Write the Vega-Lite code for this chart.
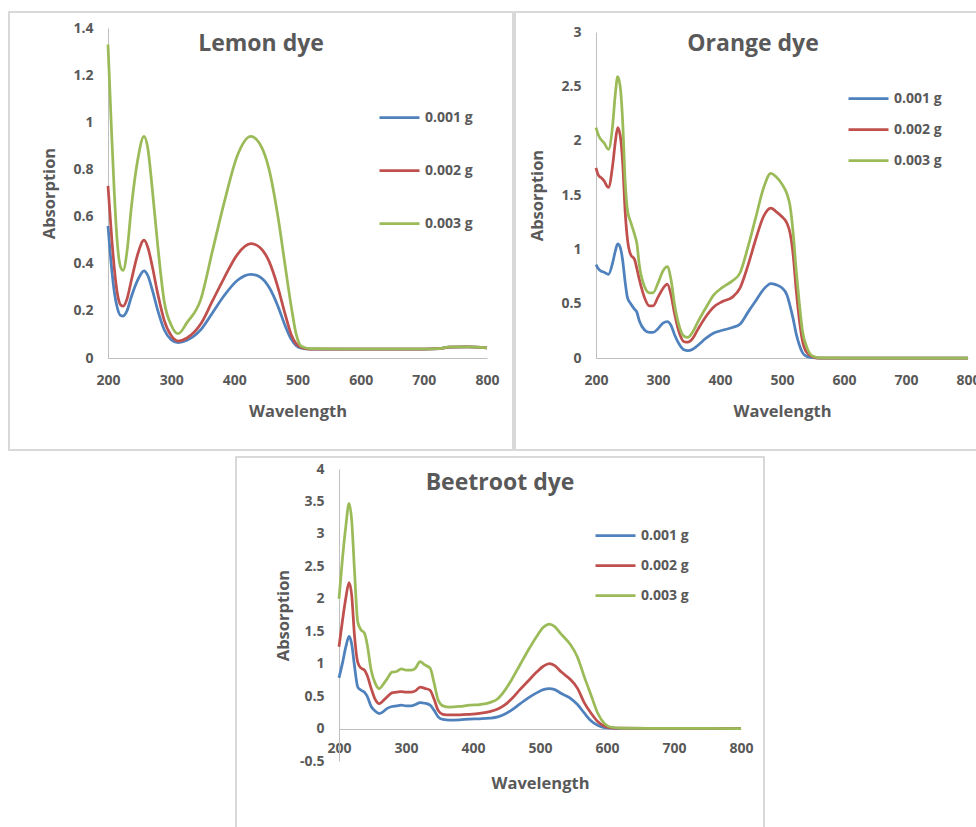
{
  "$schema": "https://vega.github.io/schema/vega-lite/v6.json",
  "background": "white",
  "padding": {"left": 8, "top": 11, "right": 0, "bottom": 0},
  "spacing": 5,
  "center": true,
  "datasets": {
    "lemon": [
      {"wl":200,"b":0.56,"r":0.73,"g":1.33},
      {"wl":205,"b":0.40,"r":0.54,"g":1.00},
      {"wl":210,"b":0.28,"r":0.38,"g":0.70},
      {"wl":215,"b":0.21,"r":0.27,"g":0.48},
      {"wl":220,"b":0.18,"r":0.225,"g":0.385},
      {"wl":224,"b":0.178,"r":0.22,"g":0.372},
      {"wl":230,"b":0.20,"r":0.25,"g":0.45},
      {"wl":237,"b":0.26,"r":0.33,"g":0.64},
      {"wl":247,"b":0.33,"r":0.44,"g":0.84},
      {"wl":257,"b":0.37,"r":0.50,"g":0.94},
      {"wl":263,"b":0.35,"r":0.47,"g":0.89},
      {"wl":270,"b":0.29,"r":0.39,"g":0.72},
      {"wl":279,"b":0.20,"r":0.27,"g":0.47},
      {"wl":289,"b":0.12,"r":0.16,"g":0.24},
      {"wl":300,"b":0.078,"r":0.095,"g":0.14},
      {"wl":311,"b":0.065,"r":0.072,"g":0.103},
      {"wl":325,"b":0.075,"r":0.085,"g":0.15},
      {"wl":347,"b":0.12,"r":0.145,"g":0.25},
      {"wl":365,"b":0.19,"r":0.24,"g":0.45},
      {"wl":384,"b":0.265,"r":0.34,"g":0.66},
      {"wl":405,"b":0.33,"r":0.44,"g":0.86},
      {"wl":426,"b":0.355,"r":0.485,"g":0.94},
      {"wl":440,"b":0.345,"r":0.47,"g":0.91},
      {"wl":455,"b":0.30,"r":0.41,"g":0.80},
      {"wl":469,"b":0.22,"r":0.30,"g":0.60},
      {"wl":480,"b":0.14,"r":0.19,"g":0.40},
      {"wl":490,"b":0.08,"r":0.10,"g":0.22},
      {"wl":498,"b":0.052,"r":0.06,"g":0.10},
      {"wl":506,"b":0.042,"r":0.045,"g":0.05},
      {"wl":520,"b":0.038,"r":0.038,"g":0.04},
      {"wl":600,"b":0.038,"r":0.038,"g":0.039},
      {"wl":700,"b":0.038,"r":0.038,"g":0.039},
      {"wl":725,"b":0.04,"r":0.04,"g":0.04},
      {"wl":740,"b":0.046,"r":0.046,"g":0.047},
      {"wl":770,"b":0.047,"r":0.047,"g":0.047},
      {"wl":800,"b":0.043,"r":0.043,"g":0.043}
    ],
    "orange": [
      {"wl":200,"b":0.86,"r":1.75,"g":2.12},
      {"wl":204,"b":0.82,"r":1.68,"g":2.05},
      {"wl":208,"b":0.80,"r":1.66,"g":2.01},
      {"wl":213,"b":0.79,"r":1.63,"g":1.98},
      {"wl":220,"b":0.77,"r":1.57,"g":1.92},
      {"wl":227,"b":0.88,"r":1.78,"g":2.15},
      {"wl":231,"b":0.98,"r":1.98,"g":2.42},
      {"wl":235,"b":1.05,"r":2.12,"g":2.59},
      {"wl":239,"b":1.02,"r":2.05,"g":2.50},
      {"wl":243,"b":0.90,"r":1.80,"g":2.18},
      {"wl":247,"b":0.70,"r":1.35,"g":1.63},
      {"wl":251,"b":0.55,"r":1.08,"g":1.35},
      {"wl":256,"b":0.50,"r":0.95,"g":1.25},
      {"wl":262,"b":0.45,"r":0.91,"g":1.14},
      {"wl":266,"b":0.42,"r":0.82,"g":1.05},
      {"wl":270,"b":0.34,"r":0.72,"g":0.85},
      {"wl":278,"b":0.26,"r":0.56,"g":0.66},
      {"wl":286,"b":0.235,"r":0.48,"g":0.60},
      {"wl":292,"b":0.235,"r":0.48,"g":0.60},
      {"wl":300,"b":0.27,"r":0.56,"g":0.69},
      {"wl":308,"b":0.32,"r":0.64,"g":0.80},
      {"wl":315,"b":0.335,"r":0.68,"g":0.84},
      {"wl":321,"b":0.30,"r":0.58,"g":0.72},
      {"wl":327,"b":0.21,"r":0.40,"g":0.48},
      {"wl":335,"b":0.12,"r":0.22,"g":0.28},
      {"wl":342,"b":0.075,"r":0.15,"g":0.20},
      {"wl":348,"b":0.067,"r":0.145,"g":0.19},
      {"wl":356,"b":0.08,"r":0.18,"g":0.24},
      {"wl":365,"b":0.12,"r":0.27,"g":0.34},
      {"wl":377,"b":0.18,"r":0.38,"g":0.46},
      {"wl":390,"b":0.23,"r":0.47,"g":0.58},
      {"wl":404,"b":0.255,"r":0.52,"g":0.65},
      {"wl":420,"b":0.28,"r":0.56,"g":0.71},
      {"wl":432,"b":0.31,"r":0.64,"g":0.78},
      {"wl":445,"b":0.42,"r":0.85,"g":1.02},
      {"wl":458,"b":0.53,"r":1.10,"g":1.30},
      {"wl":470,"b":0.63,"r":1.30,"g":1.56},
      {"wl":482,"b":0.685,"r":1.38,"g":1.70},
      {"wl":490,"b":0.675,"r":1.35,"g":1.67},
      {"wl":500,"b":0.645,"r":1.30,"g":1.60},
      {"wl":508,"b":0.58,"r":1.24,"g":1.51},
      {"wl":513,"b":0.48,"r":1.15,"g":1.40},
      {"wl":518,"b":0.36,"r":0.95,"g":1.15},
      {"wl":523,"b":0.22,"r":0.62,"g":0.80},
      {"wl":528,"b":0.12,"r":0.35,"g":0.50},
      {"wl":533,"b":0.05,"r":0.16,"g":0.25},
      {"wl":540,"b":0.015,"r":0.05,"g":0.10},
      {"wl":550,"b":0.003,"r":0.01,"g":0.015},
      {"wl":560,"b":0,"r":0,"g":0.002},
      {"wl":600,"b":0,"r":0,"g":0},
      {"wl":800,"b":0,"r":0,"g":0}
    ],
    "beet": [
      {"wl":200,"b":0.78,"r":1.26,"g":2.00},
      {"wl":205,"b":1.00,"r":1.65,"g":2.60},
      {"wl":210,"b":1.25,"r":2.00,"g":3.10},
      {"wl":215,"b":1.42,"r":2.25,"g":3.47},
      {"wl":219,"b":1.30,"r":2.05,"g":3.20},
      {"wl":223,"b":0.975,"r":1.45,"g":2.46},
      {"wl":228,"b":0.64,"r":1.02,"g":1.64},
      {"wl":233,"b":0.59,"r":0.93,"g":1.52},
      {"wl":238,"b":0.56,"r":0.90,"g":1.47},
      {"wl":242,"b":0.50,"r":0.82,"g":1.30},
      {"wl":248,"b":0.34,"r":0.62,"g":0.90},
      {"wl":254,"b":0.27,"r":0.45,"g":0.70},
      {"wl":260,"b":0.23,"r":0.385,"g":0.615},
      {"wl":266,"b":0.26,"r":0.43,"g":0.68},
      {"wl":272,"b":0.31,"r":0.49,"g":0.77},
      {"wl":279,"b":0.34,"r":0.55,"g":0.87},
      {"wl":286,"b":0.35,"r":0.56,"g":0.88},
      {"wl":293,"b":0.36,"r":0.57,"g":0.92},
      {"wl":300,"b":0.35,"r":0.56,"g":0.90},
      {"wl":308,"b":0.35,"r":0.56,"g":0.90},
      {"wl":314,"b":0.37,"r":0.58,"g":0.93},
      {"wl":321,"b":0.40,"r":0.64,"g":1.03},
      {"wl":328,"b":0.39,"r":0.62,"g":0.98},
      {"wl":336,"b":0.36,"r":0.59,"g":0.93},
      {"wl":342,"b":0.28,"r":0.45,"g":0.70},
      {"wl":348,"b":0.18,"r":0.28,"g":0.44},
      {"wl":355,"b":0.14,"r":0.22,"g":0.35},
      {"wl":365,"b":0.13,"r":0.21,"g":0.33},
      {"wl":380,"b":0.135,"r":0.21,"g":0.34},
      {"wl":395,"b":0.145,"r":0.22,"g":0.36},
      {"wl":410,"b":0.15,"r":0.235,"g":0.37},
      {"wl":425,"b":0.16,"r":0.26,"g":0.40},
      {"wl":437,"b":0.18,"r":0.30,"g":0.46},
      {"wl":447,"b":0.22,"r":0.36,"g":0.58},
      {"wl":457,"b":0.28,"r":0.45,"g":0.74},
      {"wl":470,"b":0.38,"r":0.60,"g":0.98},
      {"wl":482,"b":0.47,"r":0.73,"g":1.20},
      {"wl":495,"b":0.55,"r":0.87,"g":1.42},
      {"wl":505,"b":0.60,"r":0.96,"g":1.56},
      {"wl":514,"b":0.615,"r":1.00,"g":1.61},
      {"wl":522,"b":0.60,"r":0.97,"g":1.57},
      {"wl":532,"b":0.54,"r":0.87,"g":1.45},
      {"wl":545,"b":0.47,"r":0.76,"g":1.30},
      {"wl":556,"b":0.37,"r":0.62,"g":1.10},
      {"wl":566,"b":0.24,"r":0.40,"g":0.80},
      {"wl":576,"b":0.12,"r":0.24,"g":0.52},
      {"wl":586,"b":0.05,"r":0.11,"g":0.24},
      {"wl":596,"b":0.015,"r":0.04,"g":0.08},
      {"wl":606,"b":0.006,"r":0.012,"g":0.02},
      {"wl":620,"b":0.003,"r":0.005,"g":0.007},
      {"wl":700,"b":0.002,"r":0.003,"g":0.003},
      {"wl":800,"b":0,"r":0,"g":0}
    ]
  },
  "config": {
    "font": "Open Sans",
    "view": {"stroke": "#d9d9d9", "strokeWidth": 2},
    "axis": {
      "grid": false, "ticks": false,
      "domainColor": "#bfbfbf", "domainWidth": 1,
      "labelFont": "Open Sans", "labelFontSize": 14, "labelFontWeight": "bold", "labelColor": "#595959",
      "titleFont": "Open Sans", "titleFontSize": 16.5, "titleFontWeight": "bold", "titleColor": "#595959",
      "labelOverlap": false, "labelFlush": false
    },
    "axisX": {"labelPadding": 15, "titlePadding": 16},
    "axisY": {"labelPadding": 15, "titlePadding": 15},
    "legend": {
      "title": null, "padding": 0,
      "symbolType": "stroke", "symbolSize": 1600, "symbolStrokeWidth": 3,
      "labelFont": "Open Sans", "labelFontSize": 14, "labelFontWeight": "bold", "labelColor": "#595959",
      "labelOffset": 4
    },
    "title": {"font": "Open Sans", "fontSize": 23, "fontWeight": "bold", "color": "#595959", "anchor": "middle", "frame": "group", "baseline": "alphabetic"},
    "line": {"strokeWidth": 2.75, "interpolate": "monotone"}
  },
  "resolve": {"scale": {"color": "independent"}, "legend": {"color": "independent"}},
  "vconcat": [
    {
      "spacing": 0,
      "resolve": {"scale": {"color": "independent"}, "legend": {"color": "independent"}},
      "hconcat": [
        {
          "width": 504, "height": 438,
          "title": {"text": "Lemon dye", "offset": -44},
          "data": {"name": "lemon"},
          "transform": [{"fold": ["b", "r", "g"], "as": ["k", "a"]}],
          "mark": {"type": "line"},
          "encoding": {
            "x": {"field": "wl", "type": "quantitative",
                  "scale": {"domain": [200, 800], "range": [99, 478], "nice": false, "zero": false},
                  "axis": {"values": [200,300,400,500,600,700,800], "offset": -92, "title": "Wavelength"}},
            "y": {"field": "a", "type": "quantitative",
                  "scale": {"domain": [0, 1.4], "range": [346, 16], "nice": false},
                  "axis": {"values": [0,0.2,0.4,0.6,0.8,1,1.2,1.4], "format": ".1~f", "offset": -99, "title": "Absorption"}},
            "color": {"field": "k", "type": "nominal",
                      "scale": {"domain": ["b","r","g"], "range": ["#4F81BD","#C0504D","#9BBB59"]},
                      "legend": {"orient": "none", "legendX": 369, "legendY": 84, "rowPadding": 24,
                                 "labelExpr": "datum.label == 'b' ? '0.001 g' : datum.label == 'r' ? '0.002 g' : '0.003 g'"}}
          }
        },
        {
          "width": 476, "height": 438,
          "title": {"text": "Orange dye", "offset": -44},
          "data": {"name": "orange"},
          "transform": [{"fold": ["b", "r", "g"], "as": ["k", "a"]}],
          "mark": {"type": "line"},
          "encoding": {
            "x": {"field": "wl", "type": "quantitative",
                  "scale": {"domain": [200, 800], "range": [81, 453], "nice": false, "zero": false},
                  "axis": {"values": [200,300,400,500,600,700,800], "offset": -92, "title": "Wavelength"}},
            "y": {"field": "a", "type": "quantitative",
                  "scale": {"domain": [0, 3], "range": [346, 20], "nice": false},
                  "axis": {"values": [0,0.5,1,1.5,2,2.5,3], "format": ".1~f", "offset": -81, "title": "Absorption"}},
            "color": {"field": "k", "type": "nominal",
                      "scale": {"domain": ["b","r","g"], "range": ["#4F81BD","#C0504D","#9BBB59"]},
                      "legend": {"orient": "none", "legendX": 332, "legendY": 65, "rowPadding": 2,
                                 "labelExpr": "datum.label == 'b' ? '0.001 g' : datum.label == 'r' ? '0.002 g' : '0.003 g'"}}
          }
        }
      ]
    },
    {
      "width": 528, "height": 380,
      "title": {"text": "Beetroot dye", "offset": -38},
      "data": {"name": "beet"},
      "transform": [{"fold": ["b", "r", "g"], "as": ["k", "a"]}],
      "mark": {"type": "line"},
      "encoding": {
        "x": {"field": "wl", "type": "quantitative",
              "scale": {"domain": [200, 800], "range": [103, 505], "nice": false, "zero": false},
              "axis": {"values": [200,300,400,500,600,700,800], "offset": -108, "labelPadding": 12, "title": "Wavelength", "titlePadding": 20}},
        "y": {"field": "a", "type": "quantitative",
              "scale": {"domain": [-0.5, 4], "range": [304, 12], "nice": false, "zero": false},
              "axis": {"values": [-0.5,0,0.5,1,1.5,2,2.5,3,3.5,4], "format": ".1~f", "labelExpr": "replace(datum.label, '\u2212', '-')", "offset": -103, "title": "Absorption", "titlePadding": 8}},
        "color": {"field": "k", "type": "nominal",
                  "scale": {"domain": ["b","r","g"], "range": ["#4F81BD","#C0504D","#9BBB59"]},
                  "legend": {"orient": "none", "legendX": 358, "legendY": 57, "rowPadding": 1,
                             "labelExpr": "datum.label == 'b' ? '0.001 g' : datum.label == 'r' ? '0.002 g' : '0.003 g'"}}
      }
    }
  ]
}
